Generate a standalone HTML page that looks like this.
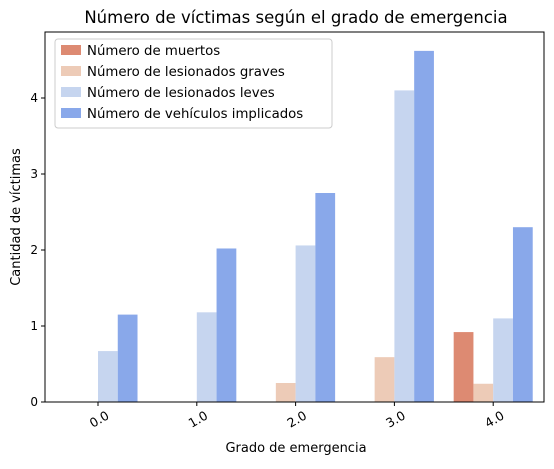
<!DOCTYPE html>
<html><head><meta charset="utf-8"><style>
body{margin:0;background:#fff;font-family:"Liberation Sans","DejaVu Sans",sans-serif;}
svg text{font-family:"DejaVu Sans","Liberation Sans",sans-serif;}
</style></head><body>
<svg id="chart" width="554" height="464">
<text x="296" y="23" text-anchor="middle" font-size="16.5" fill="#000">Número de víctimas según el grado de emergencia</text>
<g id="bars"></g>
<g id="axes"></g>
<text x="296" y="452" text-anchor="middle" font-size="13">Grado de emergencia</text>
<text transform="translate(20,217) rotate(-90)" text-anchor="middle" font-size="13">Cantidad de víctimas</text>
<g id="legend"></g>
</svg>
<script>
const categories = ["0.0","1.0","2.0","3.0","4.0"];
const seriesNames = ["Número de muertos","Número de lesionados graves","Número de lesionados leves","Número de vehículos implicados"];
const muertos = [0,0,0,0,0.92];
const graves = [0,0,0.25,0.59,0.24];
const leves = [0.67,1.18,2.06,4.10,1.10];
const vehiculos = [1.15,2.02,2.75,4.62,2.30];
const yTicks = [0,1,2,3,4];
const colors = ["#dd8a72","#edcbb7","#c6d5ef","#89a8ea"];
const series = [muertos,graves,leves,vehiculos];
const NS="http://www.w3.org/2000/svg";
const L=45,R=544,T=32,B=402;
const step=98.8;
const xs=i=>98+i*step;
const ys=v=>B-v*76;
const bw=step*0.8/series.length;
const bars=document.getElementById('bars');
series.forEach((s,si)=>s.forEach((v,i)=>{
 const r=document.createElementNS(NS,'rect');
 const x=xs(i)-bw*2+si*bw;
 r.setAttribute('x',x);r.setAttribute('width',bw);
 r.setAttribute('y',ys(v));r.setAttribute('height',B-ys(v));
 r.setAttribute('fill',colors[si]);
 
 
 bars.appendChild(r);
}));
const ax=document.getElementById('axes');
let h='<rect x="'+L+'" y="'+T+'" width="'+(R-L)+'" height="'+(B-T)+'" fill="none" stroke="#000" stroke-width="1"/>';
yTicks.forEach(t=>{const y=ys(t);h+='<line x1="'+(L-4)+'" x2="'+L+'" y1="'+y+'" y2="'+y+'" stroke="#000"/><text x="'+(L-7)+'" y="'+(y+4)+'" text-anchor="end" font-size="12">'+t+'</text>';});
categories.forEach((c,i)=>{const x=xs(i);h+='<line x1="'+x+'" x2="'+x+'" y1="'+B+'" y2="'+(B+4)+'" stroke="#000"/><text transform="translate('+(x+12)+','+(B+16)+') rotate(-30)" text-anchor="end" font-size="12.5">'+c+'</text>';});
ax.innerHTML=h;
const lg=document.getElementById('legend');
let g='<rect x="55" y="39" width="277" height="89" rx="3" fill="#fff" fill-opacity="0.8" stroke="#ccc"/>';
seriesNames.forEach((n,i)=>{const y=45+i*21;g+='<rect x="61" y="'+y+'" width="20" height="10" fill="'+colors[i]+'"/><text x="87" y="'+(y+10)+'" font-size="13.3">'+n+'</text>';});
lg.innerHTML=g;


</script>
</body></html>
